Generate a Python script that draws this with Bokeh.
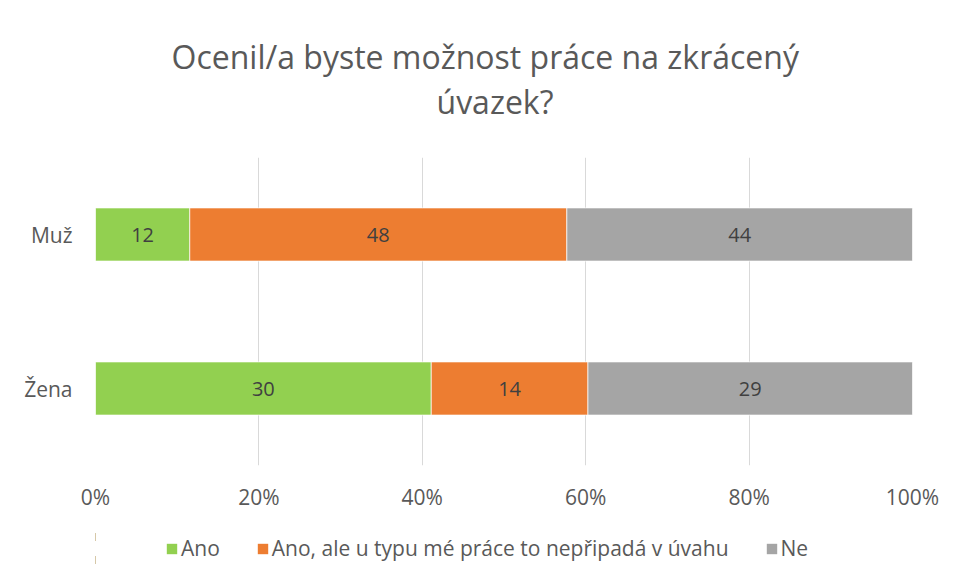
from bokeh.plotting import figure
from bokeh.layouts import column
from bokeh.models import ColumnDataSource, FactorRange, Range1d, FixedTicker, PrintfTickFormatter, Legend, LegendItem, Title, LabelSet
from bokeh.core.properties import value
from bokeh.embed import file_html
from bokeh.resources import INLINE

categories = ["Muž", "Žena"]
series_names = ["Ano", "Ano, ale u typu mé práce to nepřipadá v úvahu", "Ne"]
ano = [12, 30]
ano_ale = [48, 14]
ne = [44, 29]
colors = ["#92D050", "#ED7D31", "#A5A5A5"]
x_ticks = [0, 20, 40, 60, 80, 100]
title_lines = ["Ocenil/a byste možnost práce na zkrácený", "úvazek?"]

FONT = "Open Sans"
TXT = "#595959"

p = figure(width=952, frame_width=817, frame_height=308, output_backend="svg", toolbar_location=None,
           y_range=FactorRange(factors=["Žena", "Muž"], range_padding=0),
           x_range=Range1d(0, 100),
           min_border_left=95, min_border_right=40, min_border_top=157, min_border_bottom=60)
p.outline_line_color = None
p.background_fill_color = "white"
p.border_fill_color = "white"

series = [ano, ano_ale, ne]
totals = [sum(v) for v in zip(*series)]
left = [0.0] * len(categories)
sources = []
label_x, label_y, label_t = [], [], []
for name, vals, col in zip(series_names, series, colors):
    pct = [v / t * 100 for v, t in zip(vals, totals)]
    right = [l + q for l, q in zip(left, pct)]
    src = ColumnDataSource(dict(y=categories, left=left, right=right))
    sources.append(src)
    p.hbar(y="y", left="left", right="right", height=0.345, source=src,
           fill_color=col, line_color="white", line_width=0.7)
    for c, l, rr, v in zip(categories, left, right, vals):
        label_x.append((l + rr) / 2)
        label_y.append(c)
        label_t.append(str(v))
    left = right

lsrc = ColumnDataSource(dict(x=label_x, y=label_y, t=label_t))
p.add_layout(LabelSet(x="x", y="y", text="t", source=lsrc, text_align="center",
                      text_baseline="middle", text_font=value(FONT), text_font_size="20px",
                      text_color="#404040"))

p.xaxis.ticker = FixedTicker(ticks=x_ticks)
p.xaxis.formatter = PrintfTickFormatter(format="%d%%")
for ax in [p.xaxis[0], p.yaxis[0]]:
    ax.axis_line_color = None
    ax.major_tick_line_color = None
    ax.minor_tick_line_color = None
    ax.major_label_text_font = FONT
    ax.major_label_text_font_size = "21px"
    ax.major_label_text_color = TXT
p.xaxis.major_label_standoff = 11
p.yaxis.major_label_standoff = 17
p.xgrid.ticker = FixedTicker(ticks=x_ticks)
p.xgrid.grid_line_color = "#D9D9D9"
p.ygrid.grid_line_color = None

# titles: spacer nearest the frame, then second line, then first line
spacer = Title(text=" ", text_font=FONT, text_font_size="10px", standoff=19)
t2 = Title(text=title_lines[1], align="left", offset=341, text_font=FONT, text_font_size="32px",
           text_color=TXT, text_font_style="normal", standoff=0)
t1 = Title(text=title_lines[0], align="left", offset=76, text_font=FONT, text_font_size="32px",
           text_color=TXT, text_font_style="normal", standoff=0)
p.add_layout(spacer, "above")
p.add_layout(t2, "above")
p.add_layout(t1, "above")

# legend in its own strip below the chart (its bars lie outside its visible range)
lg = figure(width=952, height=46, output_backend="svg", toolbar_location=None,
            x_range=Range1d(200, 300), y_range=FactorRange(factors=categories),
            x_axis_type=None, y_axis_type=None,
            min_border_left=0, min_border_right=0, min_border_top=0, min_border_bottom=0)
lg.outline_line_color = None
lg.grid.visible = False
items = []
for name, col, src in zip(series_names, colors, sources):
    r = lg.hbar(y="y", left="left", right="right", height=0.345, source=src,
                fill_color=col, line_color=None)
    items.append(LegendItem(label=name, renderers=[r]))
legend = Legend(items=items, orientation="horizontal", location=(70, 9),
                glyph_width=13, glyph_height=13, label_standoff=3, spacing=36,
                label_text_font=FONT, label_text_font_size="21px", label_text_color=TXT,
                border_line_color=None, background_fill_alpha=0, padding=0, margin=0)
lg.add_layout(legend, "center")

layout = column(p, lg, spacing=0)
open("out.html", "w").write(file_html(layout, INLINE))
